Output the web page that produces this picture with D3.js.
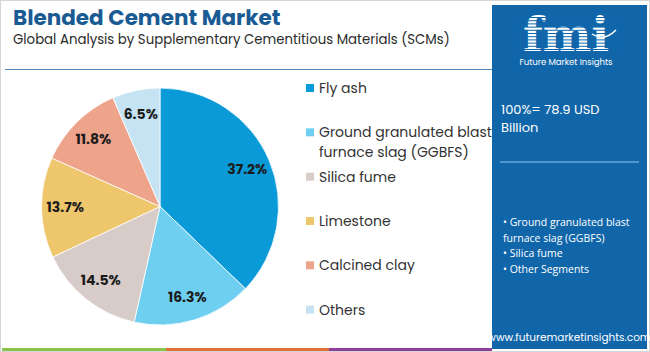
<!DOCTYPE html>
<html>
<head>
<meta charset="utf-8">
<script src="https://cdn.jsdelivr.net/npm/d3@7"></script>
<style>
  body { margin: 0; background: #fff; }
  svg { display: block; }
</style>
</head>
<body>
<svg width="650" height="352"></svg>
<script>
const categories = ["Fly ash", "Ground granulated blast furnace slag (GGBFS)", "Silica fume", "Limestone", "Calcined clay", "Others"]
const legendLines = [["Fly ash"], ["Ground granulated blast", "furnace slag (GGBFS)"], ["Silica fume"], ["Limestone"], ["Calcined clay"], ["Others"]]
const shares = [37.2, 16.3, 14.5, 13.7, 11.8, 6.5]
const colors = ["#0a9ad8", "#6fcff1", "#d8ccc9", "#eec66c", "#eea38b", "#c6e3f3"]
const sideBullets = ["Ground granulated blast|furnace slag (GGBFS)", "Silica fume", "Other Segments"]

const svg = d3.select("svg")
const font = "Poppins, 'Open Sans', sans-serif"

// frame
svg.append("rect").attr("x", 0.5).attr("y", 0.5).attr("width", 649).attr("height", 351)
    .style("fill", "none").style("stroke", "#d6d6d6")

// title
svg.append("text").attr("x", 13).attr("y", 25)
    .style("font-family", font).style("font-weight", "bold").style("font-size", "21.5px")
    .style("fill", "#1a5b93").text("Blended Cement Market")
svg.append("text").attr("x", 13).attr("y", 44)
    .style("font-family", font).style("font-size", "13.3px")
    .style("fill", "#2b2b2b").text("Global Analysis by Supplementary Cementitious Materials (SCMs)")

svg.append("line").attr("x1", 5).attr("x2", 492).attr("y1", 69.5).attr("y2", 69.5)
    .style("stroke", "#4f86b8").style("stroke-width", 1.2)

// bottom stripe
const stripe = [["#8bc34a", 2, 166], ["#e0703a", 166, 329], ["#8e3d98", 329, 492]]
stripe.forEach(s => {
    svg.append("rect").attr("x", s[1]).attr("y", 348).attr("width", s[2] - s[1]).attr("height", 3).style("fill", s[0])
})

// pie
const cx = 160, cy = 206.5, r = 118.5
const pie = d3.pie().sort(null).value(d => d)
const arcs = pie(shares)
const arc = d3.arc().innerRadius(0).outerRadius(r)
const labelArc = d3.arc().innerRadius(r * 0.8).outerRadius(r * 0.8)

const g = svg.append("g").attr("transform", "translate(" + cx + "," + cy + ")")
g.selectAll("path").data(arcs).enter().append("path")
    .attr("d", arc)
    .style("fill", (d, i) => colors[i])
    .style("stroke", "#fff").style("stroke-width", 0.8)

g.selectAll(".lbl").data(arcs).enter().append("text")
    .attr("class", "lbl")
    .attr("transform", d => "translate(" + labelArc.centroid(d) + ")")
    .attr("text-anchor", "middle").attr("dy", "0.35em")
    .style("font-family", font).style("font-weight", "bold").style("font-size", "14px")
    .style("fill", "#1b1b1b")
    .text(d => d.data.toFixed(1) + "%")

// legend
const ly = d3.scaleBand().domain(categories).range([67, 333])
const leg = svg.append("g")
categories.forEach((c, i) => {
    const y0 = ly(c) + 22
    leg.append("rect").attr("x", 306).attr("y", y0 - 5).attr("width", 8).attr("height", 8).style("fill", colors[i])
    legendLines[i].forEach((t, j) => {
        leg.append("text").attr("x", 319).attr("y", y0 + 4 + j * 20)
            .style("font-family", font).style("font-size", "14px").style("fill", "#333")
            .text(t)
    })
})

// right panel
svg.append("rect").attr("x", 492).attr("y", 5).attr("width", 155).attr("height", 344).style("fill", "#1166aa")

// logo
const logo = svg.append("g")
logo.append("text").attr("x", 566).attr("y", 51).attr("text-anchor", "middle")
    .style("font-family", "'DejaVu Serif', serif").style("font-weight", "bold").style("font-size", "46px")
    .style("letter-spacing", "0px").style("fill", "#fff").text("fmi")
d3.range(17, 53, 3.2).forEach(y => {
    logo.append("rect").attr("x", 512).attr("y", y).attr("width", 112).attr("height", 1).style("fill", "#1166aa")
})
logo.append("path").attr("d", "M592,34 Q604,42 616,30").style("fill", "none").style("stroke", "#fff").style("stroke-width", 1.5)
logo.append("text").attr("x", 566).attr("y", 65).attr("text-anchor", "middle")
    .style("font-family", font).style("font-size", "8.5px").style("fill", "#fff").text("Future Market Insights")

svg.append("text").attr("x", 501).attr("y", 114)
    .style("font-family", font).style("font-size", "13px").style("fill", "#fff").text("100%= 78.9 USD")
svg.append("text").attr("x", 501).attr("y", 132)
    .style("font-family", font).style("font-size", "13px").style("fill", "#fff").text("Billion")
svg.append("line").attr("x1", 500).attr("x2", 639).attr("y1", 162).attr("y2", 162)
    .style("stroke", "#8ec1ea").style("stroke-width", 1.2)

let by = 226
sideBullets.forEach(b => {
    b.split("|").forEach((t, j) => {
        svg.append("text").attr("x", 503).attr("y", by)
            .style("font-family", "'Open Sans', sans-serif").style("font-size", "10.5px").style("fill", "#fff")
            .text((j === 0 ? "\u2022 " : "") + t)
        by += 15.5
    })
})

svg.append("text").attr("x", 569).attr("y", 341).attr("text-anchor", "middle")
    .style("font-family", font).style("font-size", "10.5px").style("fill", "#fff").text("www.futuremarketinsights.com")
</script>
</body>
</html>
